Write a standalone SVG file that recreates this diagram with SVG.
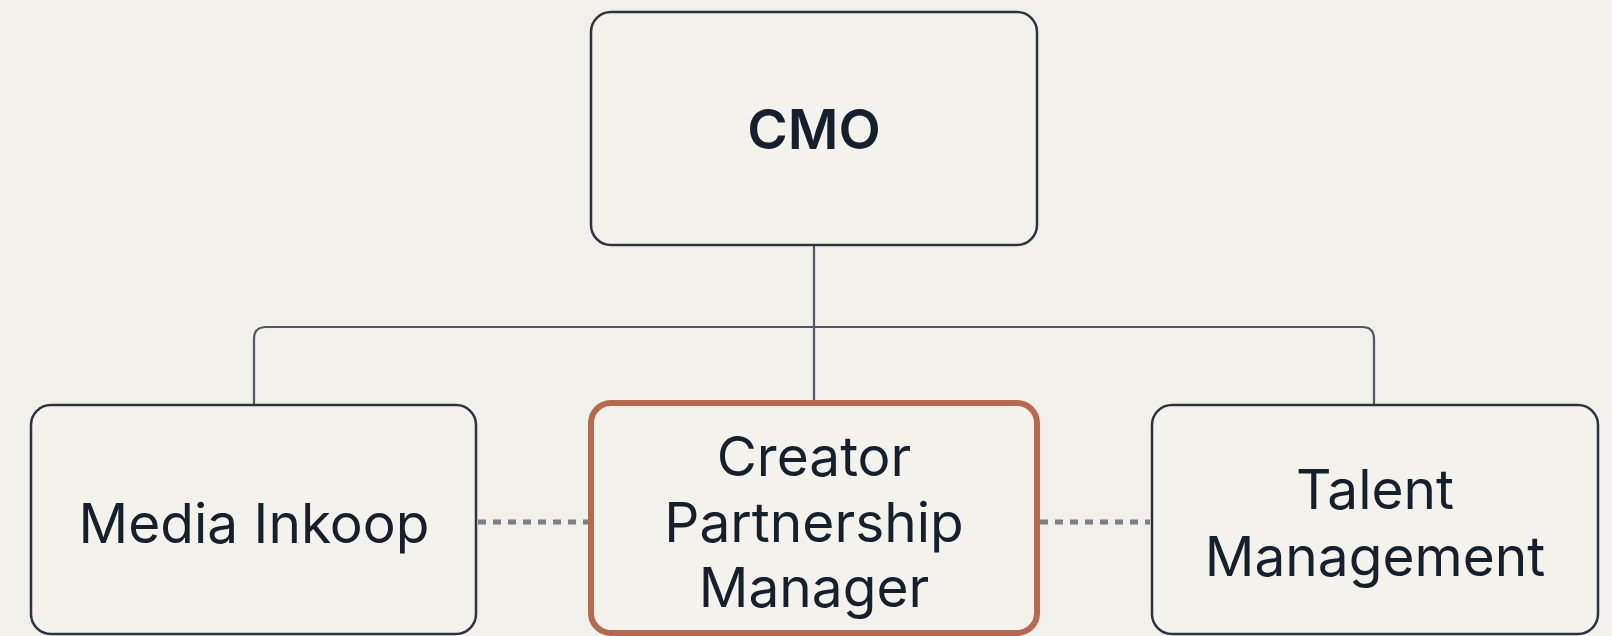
<svg xmlns="http://www.w3.org/2000/svg" width="1612" height="636" viewBox="0 0 1612 636">
<style>
.bg{fill:#f2f0ea}
.box{fill:#f4f2ed;stroke:#2b3540;stroke-width:2.5}
.hl{fill:#f4f2ed;stroke:#b5694e;stroke-width:6}
.lbl{font-family:Inter,"Liberation Sans",sans-serif;font-size:55px;fill:#16202d;text-anchor:middle}
.bold{font-weight:600}
.line{fill:none;stroke:#4f5864;stroke-width:2.2}
.dot{fill:none;stroke:#7b818a;stroke-width:5;stroke-dasharray:8 7}
</style>
<rect class="bg" x="0" y="0" width="1612" height="636"/>
<g id="connectors">
<path class="line" d="M814 245 V401"/>
<path class="line" d="M254 405 V339 Q254 327 266 327 H1362 Q1374 327 1374 339 V405"/>
<path class="dot" d="M478 522 H588"/>
<path class="dot" d="M1040 522 H1150"/>
</g>
<g id="cmo">
<rect class="box" x="591" y="12" width="446" height="233" rx="20"/>
<text class="lbl bold" x="814" y="149">CMO</text>
</g>
<g id="media-inkoop">
<rect class="box" x="31" y="405" width="445" height="229" rx="20"/>
<text class="lbl" x="254" y="543">Media Inkoop</text>
</g>
<g id="creator-partnership-manager">
<rect class="hl" x="591" y="403" width="446" height="230" rx="20"/>
<text class="lbl" x="814" y="476">Creator</text>
<text class="lbl" x="814" y="542">Partnership</text>
<text class="lbl" x="814" y="607">Manager</text>
</g>
<g id="talent-management">
<rect class="box" x="1152" y="405" width="446" height="229" rx="20"/>
<text class="lbl" x="1375" y="509">Talent</text>
<text class="lbl" x="1375" y="576">Management</text>
</g>
</svg>
